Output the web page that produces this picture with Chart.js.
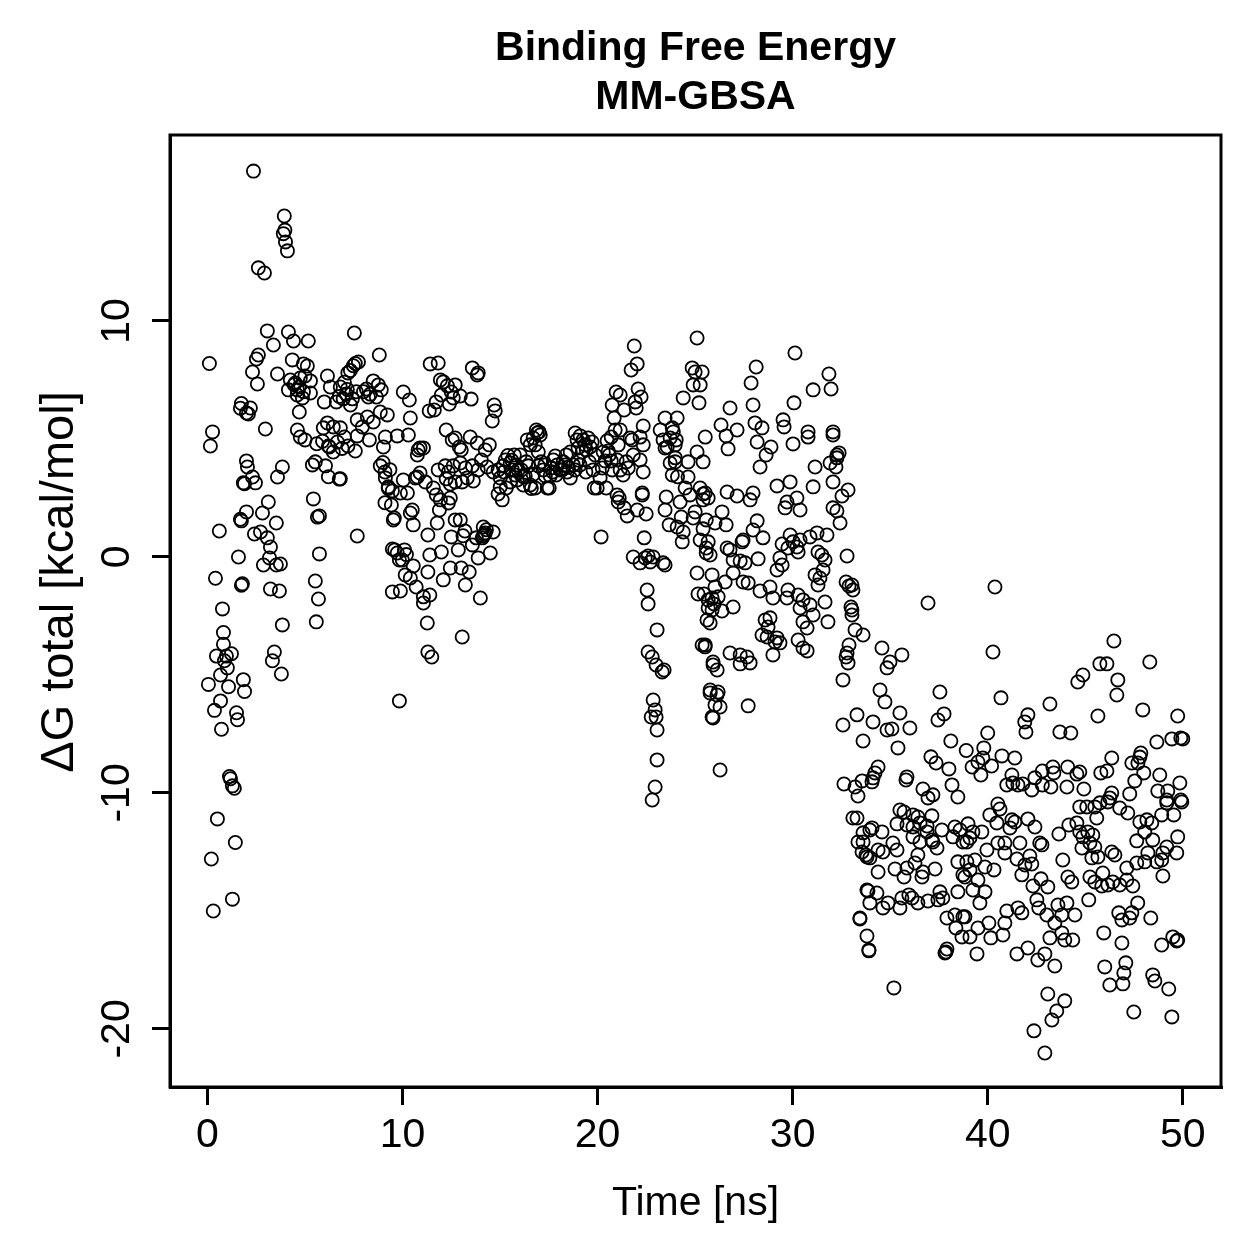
<!DOCTYPE html>
<html>
<head>
<meta charset="utf-8">
<script src="https://cdn.jsdelivr.net/npm/chart.js@4.4.1/dist/chart.umd.min.js"></script>
<style>
  html, body { margin: 0; padding: 0; background: #fff; }
</style>
</head>
<body>
<canvas id="myChart" width="1259" height="1259"></canvas>
<script>
// MM-GBSA binding free energy per frame
let timeNs = [
  0.1,0.15,0.26,0.05,0.2,0.3,0.36,0.41,0.46,0.51,0.61,0.67,0.67,0.72,0.77,0.82,0.82,0.87,0.97,1.02,1.08,1.13,1.18,1.23,1.28,1.38,1.28,1.43,1.49,1.54,1.59,1.69,1.74,1.74,1.84,1.9,1.9,1.79,1.69,2.0,
  2.36,2.61,2.92,3.94,3.89,4.0,4.1,3.07,3.38,2.61,2.51,2.31,2.56,3.59,2.2,2.1,2.97,2.0,2.05,2.31,1.84,2.46,3.12,2.0,1.74,2.82,3.53,2.41,2.72,3.07,3.23,3.18,2.87,3.53,3.74,3.23,3.69,3.84,3.43,3.33,3.79,3.84,3.59,3.97,
  4.15,4.41,5.17,4.35,4.92,5.12,4.25,4.5,4.76,5.0,5.28,4.15,4.61,4.92,5.28,4.6,4.87,4.71,4.61,5.99,5.94,5.43,5.74,5.64,5.74,5.58,5.69,5.53,5.38,5.53,4.76,5.0,5.9,6.2,5.6,4.45,4.7,
  6.15,6.3,6.81,7.02,7.2,7.33,7.48,7.58,7.74,7.17,6.76,6.96,7.12,7.43,7.63,7.53,6.15,6.45,6.81,7.02,6.66,6.25,6.45,7.58,7.68,7.94,6.61,7.33,7.68,6.81,7.68,6.05,6.2,6.76,6.9,7.2,
  8.2,8.86,9.22,8.5,8.81,8.5,8.76,8.15,8.35,8.66,8.91,8.25,10.04,9.12,9.02,8.3,8.86,9.12,9.27,9.48,9.43,9.53,9.58,9.48,9.73,9.84,9.48,9.89,9.84,9.89,9.73,9.0,9.35,9.1,9.27,9.1,9.6,8.0,
  10.35,10.4,10.3,10.8,10.76,10.9,11.07,10.5,10.4,10.55,10.76,10.9,10.66,11.17,10.25,10.04,11.3,11.4,11.3,11.4,11.27,11.3,11.5,11.07,11.07,11.37,11.42,11.94,11.83,11.63,11.99,11.73,10.14,10.4,10.55,9.99,10.7,11.78,11.89,11.94,11.73,11.58,11.83,10.1,10.2,
  12.09,12.3,12.5,12.7,12.6,12.4,12.96,13.52,13.83,13.58,13.88,12.24,12.55,12.7,12.91,13.01,13.47,13.83,12.19,12.35,12.6,12.96,13.22,13.58,13.88,12.24,12.45,12.7,13.06,13.32,13.63,12.45,12.35,12.7,12.96,12.5,12.86,13.01,13.22,13.42,13.58,13.78,13.99,12.45,12.09,13.06,11.99,13.1,13.2,
  14.7,14.75,14.6,14.24,14.45,14.04,14.34,14.65,14.9,15.01,15.16,15.27,15.52,15.63,15.78,15.88,15.01,15.32,14.9,14.14,14.24,14.14,14.65,13.88,14.5,14.09,15.11,15.52,15.83,15.93,15.73,14.2,14.3,15.4,15.2,15.6,
  16.09,16.29,16.55,16.19,16.8,16.4,16.55,16.7,16.86,16.91,17.06,16.8,16.96,17.11,17.21,17.32,17.42,17.52,17.62,17.73,17.83,17.93,17.88,17.57,16.96,16.34,16.03,16.45,16.6,17.0,17.3,17.7,16.2,16.7,
  18.08,18.24,18.39,18.44,18.6,18.75,18.85,19.0,18.95,18.85,19.11,19.26,19.36,19.52,19.62,19.72,19.42,19.21,19.0,18.6,18.34,19.88,19.77,19.83,19.98,19.57,18.2,18.5,19.1,19.4,
  20.13,20.24,20.39,20.6,20.29,20.49,20.7,20.9,20.85,20.75,20.95,21.16,21.36,21.16,21.06,21.0,21.16,21.47,21.57,21.83,21.77,21.67,21.31,21.11,21.36,20.18,20.55,20.7,20.75,20.44,21.88,22.03,21.72,21.52,21.06,21.0,
  22.08,22.23,21.93,21.98,22.34,22.18,22.34,22.18,22.34,22.29,22.03,21.83,22.18,22.44,22.59,22.85,22.7,22.54,22.59,23.05,22.59,22.8,23.0,23.31,23.41,22.85,22.95,22.75,23.0,23.05,23.05,22.95,22.8,23.36,23.46,23.46,23.52,23.67,23.83,23.57,23.72,23.88,24.03,23.98,23.21,23.36,23.46,23.83,24.08,24.39,23.72,23.98,24.1,22.29,22.49,22.39,23.46,23.98,
  24.23,24.49,24.74,25.0,24.9,24.29,24.08,24.39,24.34,25.1,25.15,25.36,24.64,24.64,25.1,24.85,25.0,25.1,24.9,25.36,25.26,25.2,25.52,25.41,25.41,25.67,25.26,25.57,25.26,25.57,25.77,25.46,25.67,25.87,25.97,25.77,25.52,25.77,25.92,25.87,26.02,26.12,26.28,25.87,
  26.69,26.64,27.15,25.52,25.41,26.38,26.02,26.59,25.41,25.67,25.57,26.64,26.79,27.41,27.46,26.95,27.31,27.56,26.95,27.46,27.72,26.54,26.02,25.87,26.18,25.67,25.61,26.38,26.95,25.51,26.79,27.31,27.66,27.82,27.31,25.92,26.13,25.77,26.18,26.28,25.92,27.72,27.82,27.97,27.15,26.33,26.79,27.87,27.97,28.07,28.18,27.97,28.18,26.59,
  28.13,28.43,28.89,29.2,29.61,29.71,29.87,28.48,28.23,28.33,28.84,28.99,29.76,29.71,28.59,28.84,28.74,28.43,28.69,29.2,29.35,29.1,28.99,29.46,29.87,29.2,29.35,29.46,29.76,29.51,29.56,28.64,28.33,
  30.02,30.12,30.07,30.22,30.38,30.28,30.02,30.89,31.25,31.76,30.28,30.53,30.38,30.89,31.66,31.81,31.05,30.74,30.53,30.28,30.53,30.74,31.15,31.4,31.3,31.56,31.3,31.5,31.66,31.05,31.15,30.79,31.05,31.86,31.97,30.79,32.07,30.22,30.38,
  32.07,32.27,32.38,32.27,31.92,32.22,32.07,32.84,32.53,32.07,32.27,32.43,32.79,33.04,33.09,33.04,33.04,32.89,32.79,32.84,33.61,32.58,33.3,32.58,32.63,33.2,33.35,33.09,33.3,33.35,33.56,33.45,33.81,33.91,33.76,33.96,32.74,32.89,32.99,33.2,32.74,33.61,33.81,33.91,33.45,
  34.07,33.61,33.61,33.81,33.96,34.38,34.63,34.58,35.14,35.35,35.35,35.5,35.71,34.12,34.22,34.38,34.07,33.86,34.32,33.96,34.63,34.89,35.5,35.6,35.19,34.38,35.25,35.86,35.71,34.48,34.73,34.99,34.84,34.58,35.6,34.12,35.09,34.84,35.4,35.5,35.81,35.86,33.56,
  36.01,36.17,36.42,35.86,36.17,36.53,36.89,37.14,37.65,36.89,37.14,36.53,36.17,37.19,37.4,36.42,36.27,36.68,36.63,37.3,35.96,36.12,36.42,36.94,37.55,37.7,37.45,36.68,37.19,36.94,37.09,37.35,37.45,37.76,37.55,36.94,37.91,37.86,37.91,37.81,
  38.11,38.01,38.17,38.47,38.22,38.32,38.58,38.73,38.47,38.73,38.47,38.32,38.37,38.68,38.73,38.9,39.2,
  40.37,40.27,46.47,48.31,45.75,46.11,44.88,44.62,46.67,46.62,40.68,43.19,45.65,47.95,49.74,42.06,41.9,41.96,43.7,44.26,40.0,48.67,49.44,49.9,50.0,39.8,39.75,39.5,40.2,39.65,40.73,41.39,41.24,40.98,41.29,41.55,41.8,42.26,42.8,43.34,43.39,42.42,42.8,43.24,44.1,44.72,44.57,44.06,44.93,46.36,46.11,45.8,47.39,47.85,47.7,48.0,47.54,47.28,47.8,48.82,49.85,48.72,49.23,49.18,49.9,46.26,46.36,45.75,
  40.52,40.63,40.11,40.47,41.24,41.39,41.14,42.06,42.42,38.99,39.24,39.09,39.7,38.93,40.52,40.88,41.65,42.67,42.78,39.96,
  40.88,41.5,42.16,41.91,42.26,41.75,38.93,39.34,39.09,38.83,39.86,40.32,39.5,39.24,39.86,39.6,42.73,42.32,43.08,43.65,
  43.85,44.16,44.57,44.72,44.88,45.13,45.39,45.24,45.49,44.83,45.34,45.65,44.72,45.08,45.49,45.59,46.16,46.77,47.18,47.8,
  48.16,48.41,48.05,47.64,48.46,48.92,49.54,49.18,49.95,49.74,49.69,49.18,48.98,48.92,48.67,48.21,48.05,47.64,47.13,48.98,
  46.36,46.52,44.11,44.31,45.24,45.49,45.9,45.85,46.16,46.41,46.77,47.13,47.44,45.18,42.52,42.62,43.03,43.6,44.06,43.8,
  43.44,44.47,40.98,41.55,41.75,40.88,40.78,40.06,40.16,39.5,39.09,38.83,43.19,43.8,43.95,44.36,39.45,41.5,42.06,42.57,
  42.93,43.44,46.72,46.88,47.28,47.39,47.69,48.36,45.95,46.88,48.92,49.49,49.69,49.74,46.0,47.08,46.98,46.93,46.26,48.46,
  48.57,49.28,43.08,43.95,43.54,43.29,42.37,42.93,47.49,49.44
];

let deltaG = [
  8.2,4.7,5.3,-5.4,-12.8,-15.0,-6.5,-0.9,-4.2,-11.1,1.1,-6.1,-5.0,-7.3,-2.2,-3.2,-3.7,-4.4,-4.2,-4.7,-5.5,-9.3,-9.4,-4.1,-9.7,-9.8,-14.5,-12.1,-6.6,-6.9,0.0,1.6,-1.2,6.5,-5.2,-5.7,3.1,-1.14,6.3,6.1,
  16.35,12.25,12.03,14.45,13.7,13.35,12.97,9.58,8.98,8.56,8.39,7.84,7.33,7.75,6.31,6.06,5.42,4.07,3.81,3.39,3.14,3.14,2.33,1.91,1.53,1.86,1.44,0.97,1.06,0.81,0.42,-0.04,-0.34,-0.34,-0.3,-1.36,-1.44,-2.88,-4.03,-4.4,-4.96,3.81,3.39,13.85,
  9.53,9.15,9.15,8.35,8.18,8.09,7.5,7.37,7.58,7.67,7.46,7.08,7.08,7.0,6.95,6.86,6.74,6.14,5.38,6.57,5.47,2.46,1.74,1.69,0.13,-2.75,-1.78,-1.02,3.9,4.03,5.08,4.96,4.9,4.7,4.8,7.3,7.2,
  7.67,7.2,7.2,7.4,7.8,7.9,8.1,8.2,8.26,7.1,6.8,6.7,6.9,6.7,7.0,9.49,5.68,5.51,5.47,5.08,4.87,4.66,4.45,4.49,5.13,5.51,6.57,6.44,5.81,3.31,0.89,3.86,3.4,3.3,4.6,4.7,
  5.93,6.14,6.02,5.72,8.56,7.46,7.29,7.12,6.9,6.78,7.08,6.78,6.99,5.08,4.66,4.96,3.86,3.35,2.97,2.8,2.2,1.57,1.65,0.34,0.17,-0.13,-1.48,-1.44,-6.1,2.71,5.13,4.0,3.7,3.6,2.9,2.3,0.3,7.0,
  6.65,5.89,5.17,4.53,4.32,4.62,4.62,1.99,1.86,1.36,3.39,3.56,3.35,3.18,2.71,3.26,0.93,0.08,-0.64,-1.61,-2.8,-4.03,-4.24,-1.69,-1.95,6.19,8.18,7.5,8.22,6.23,6.86,6.57,-0.76,-0.89,-0.38,-0.13,-1.27,1.44,1.99,2.42,2.63,2.92,3.69,0.3,0.1,
  7.42,7.25,6.99,7.29,6.74,6.48,6.82,6.69,7.71,8.01,7.8,5.38,4.96,5.04,4.66,4.53,5.08,4.83,3.86,3.6,3.86,3.98,3.77,3.86,3.69,3.31,3.09,3.18,3.18,3.35,3.22,2.5,2.29,1.57,1.57,0.85,0.3,-0.47,-1.19,-0.64,0.51,0.81,-1.74,-0.47,-0.97,-3.39,0.21,0.9,1.1,
  6.44,6.19,5.76,4.53,4.75,4.11,3.81,3.6,3.69,3.35,3.86,4.11,3.98,3.69,3.47,3.26,2.97,2.92,2.67,1.27,1.02,0.89,1.06,-0.04,0.17,0.81,2.42,3.18,3.9,3.69,4.32,0.95,1.15,4.3,3.6,4.1,
  3.69,3.43,3.05,3.05,2.92,4.96,4.75,5.04,5.38,5.25,5.17,4.75,4.45,4.03,3.69,3.43,2.92,2.92,3.77,4.11,4.28,3.9,3.47,3.43,3.86,4.03,4.32,3.86,2.9,5.3,3.9,3.6,3.4,3.5,
  3.69,4.03,4.32,3.6,3.35,3.9,3.69,4.11,4.96,5.25,5.13,4.96,4.75,5.04,4.66,4.87,4.53,4.45,4.62,4.45,3.9,4.32,3.69,2.92,2.92,4.03,3.7,3.8,3.9,3.6,
  3.35,3.77,4.07,4.32,4.45,4.92,5.08,5.38,5.89,6.44,6.99,6.86,6.23,5.38,4.75,4.11,3.69,4.03,3.77,4.32,4.96,5.04,3.47,2.5,2.08,0.85,4.49,4.07,3.69,2.92,8.94,8.18,7.92,1.74,2.33,2.63,
  7.12,6.78,6.57,6.31,5.55,5.08,4.75,4.11,3.6,2.71,1.99,0,-0.25,-0.04,0.04,0,-0.21,-1.4,-1.99,-3.09,-4.03,-4.24,-4.58,-4.87,-4.79,-6.06,-6.48,-6.78,-6.78,-7.33,-8.6,-9.75,-10.3,-0.25,-0.34,1.99,2.54,1.36,3.47,4.66,5.04,5.3,4.96,4.03,5.38,4.96,5.89,5.47,5.89,6.74,3.98,4.2,3.4,2.63,1.82,0.81,4.62,4.75,
  2.33,2.92,2.63,1.91,1.65,1.69,1.27,1.06,0.64,-0.68,-1.57,-3.73,4.03,3.39,4.45,8.01,7.84,9.28,7.29,7.84,7.29,6.53,5.08,4.03,2.67,2.5,2.92,1.57,0.72,0.38,0.08,-1.57,-1.82,-2.25,-1.99,-2.8,-3.73,-5.64,-4.58,-6.78,-6.27,-5.85,-9.03,-0.76,
  4.58,2.75,2.58,2.71,2.42,1.91,1.44,1.36,1.19,0.64,0.17,0.38,0.3,0.64,0.72,-0.13,-0.17,-0.25,-0.68,-1.06,-1.1,-1.06,-1.27,-1.74,-1.69,-2.16,-2.67,-2.29,-2.12,-3.81,-4.07,-4.15,-4.24,-4.49,-4.53,-4.45,-4.79,-5.76,-5.72,-6.36,-6.82,-6.31,2.42,2.71,5.38,5.59,6.31,7.37,6.44,5.68,4.87,1.14,1.53,5.13,
  8.05,5.47,4.66,3.01,2.08,2.33,3.18,0.81,-0.08,-1.44,-1.27,-1.74,-1.4,-1.74,-2.67,-2.58,-2.97,-3.31,-3.39,-3.43,-3.64,-3.6,-4.15,0.55,0.93,-0.55,-0.04,-0.34,0.38,5.81,5.51,4.32,3.81,
  4.79,8.64,6.53,0.42,0.72,0.21,0.64,0.85,1.02,0.93,-1.61,-1.82,-2.16,-2.03,-1.91,-2.75,-2.46,-3.01,-2.75,-3.52,-3.86,-3.98,-0.76,-0.89,-1.19,-0.55,0.21,0.08,-0.13,2.97,3.81,5.08,7.08,7.75,7.12,5.3,5.3,2.5,1.99,
  5.17,4.32,4.41,4.2,3.98,3.81,3.18,2.84,2.58,2.08,1.95,1.44,0.04,-1.19,-1.4,-2.25,-2.46,-3.73,-4.07,-4.49,-3.31,-5.21,-6.69,-7.12,-9.62,-9.75,-10.13,-11.06,-11.06,-12.08,-12.5,-15.3,-14.11,-16.65,-12.63,-11.57,-1.06,-1.23,-2.12,-3.09,-4.24,-7.8,-16.06,-16.69,-15.34,
  -11.48,-11.69,-12.08,-12.71,-12.75,-12.42,-12.5,-11.65,-12.12,-12.42,-11.31,-10.72,-10.81,-9.36,-9.15,-8.9,-9.53,-14.15,-14.24,-14.66,-14.87,-14.66,-14.87,-14.45,-18.26,-13.35,-13.22,-13.18,-13.56,-5.64,-6.14,-4.45,-4.7,-3.86,-4.15,-6.99,-7.29,-7.33,-8.09,-6.61,-9.45,-9.32,-9.49,
  -7.25,-10.93,-11.02,-11.36,-11.44,-11.27,-11.4,-10.97,-11.57,-11.65,-11.99,-12.08,-11.86,-12.08,-12.33,-12.63,-12.97,-13.35,-13.56,-13.22,-14.32,-14.45,-14.66,-14.58,-14.19,-14.45,-14.53,-9.83,-10.08,-10.21,-8.47,-8.73,-6.91,-6.65,-5.72,-1.95,-15.3,-16.74,-16.61,-16.78,
  -7.8,-8.98,-9.66,-10.17,-11.86,-11.44,-11.57,-12.08,-12.92,-13.47,-14.19,-15.17,-15.72,-16.1,-15.25,-8.2,-8.9,
  -1.27,-4.03,-3.56,-4.45,-4.53,-4.53,-5.0,-5.3,-5.21,-5.85,-5.97,-6.23,-6.74,-6.48,-6.74,-6.69,-6.99,-7.42,-7.42,-7.46,-7.46,-7.84,-7.71,-7.67,-7.71,-8.09,-8.52,-8.69,-8.86,-9.24,-8.43,-8.52,-9.24,-9.66,-9.58,-9.66,-9.62,-9.87,-9.07,-8.9,-9.15,-9.36,-9.66,-9.75,-8.9,-9.11,-9.2,-9.75,-9.83,-8.52,-9.07,-9.15,-8.73,-8.31,-8.73,-9.15,-9.49,-10.04,-8.48,-9.24,-9.58,-9.92,-9.92,-10.3,-10.3,-10.21,-10.0,-10.42,
  -10.47,-10.68,-10.93,-11.27,-11.14,-11.23,-11.48,-11.1,-11.44,-11.31,-11.65,-11.91,-11.65,-12.08,-12.12,-12.12,-12.12,-12.12,-12.2,-12.42,
  -12.54,-12.8,-12.67,-13.05,-13.01,-13.47,-12.92,-12.84,-13.26,-13.56,-13.14,-13.26,-13.69,-14.11,-14.19,-14.66,-13.64,-13.94,-13.98,-11.74,
  -12.84,-11.36,-11.27,-11.65,-11.86,-11.65,-11.78,-12.12,-12.29,-12.33,-12.75,-12.71,-10.59,-10.59,-10.59,-11.06,-10.38,-10.64,-10.85,-11.23,
  -11.14,-11.27,-11.65,-12.03,-11.99,-10.93,-10.93,-10.42,-10.38,-11.86,-12.54,-12.29,-12.54,-12.84,-12.92,-12.54,-12.92,-12.97,-13.18,-13.52,
  -12.5,-12.63,-13.56,-13.77,-13.56,-13.77,-13.39,-13.94,-13.9,-13.77,-13.9,-13.69,-13.94,-14.53,-14.53,-14.87,-15.17,-14.75,-14.66,-15.17,
  -15.51,-15.17,-15.0,-14.87,-15.08,-15.51,-16.02,-15.51,-16.14,-15.72,-16.1,-15.25,-16.14,-15.93,-16.23,-16.23,-16.82,-16.82,-16.57,-17.08,
  -16.82,-17.33,-15.08,-15.38,-15.3,-15.08,-14.66,-15.3,-15.93,-16.36,-16.44,-16.1,-16.27,-16.23,-17.37,-17.2,-17.63,-18.09,-18.14,-17.71,
  -17.97,-18.31,-18.52,-18.81,-19.24,-19.62,-20.08,-21.02,-19.28,-19.49
];

let xTicks = [0, 10, 20, 30, 40, 50];
let yTicks = [-20, -10, 0, 10];

let mainTitle = ["Binding Free Energy", "MM-GBSA"];
let xTitle = "Time [ns]";
let yTitle = "\u0394G total [kcal/mol]";

if (timeNs.length != deltaG.length) {
  console.error("length mismatch", timeNs.length, deltaG.length);
}

let points = timeNs.map((t, i) => ({ x: t, y: deltaG[i] }));

let fontFamily = "'Liberation Sans', Arial, Helvetica, sans-serif";

// R-like frame, title and axis labels
let frame = {
  id: "frame",
  afterDraw(chart) {
    let ctx = chart.ctx;
    let a = chart.chartArea;
    ctx.save();
    ctx.strokeStyle = "#000";
    ctx.lineWidth = 3;
    ctx.strokeRect(a.left, a.top, a.right - a.left, a.bottom - a.top);

    ctx.fillStyle = "#000";
    ctx.textAlign = "center";
    ctx.textBaseline = "alphabetic";
    ctx.font = "bold 41px " + fontFamily;
    let cx = (a.left + a.right) / 2;
    ctx.fillText(mainTitle[0], cx, 60);
    ctx.fillText(mainTitle[1], cx, 109);

    ctx.font = "41px " + fontFamily;
    ctx.fillText(xTitle, cx, 1215);

    ctx.font = "47px " + fontFamily;
    ctx.translate(73, 582);
    ctx.rotate(-Math.PI / 2);
    ctx.fillText(yTitle, 0, 0);
    ctx.restore();
  }
};

let ctx = document.getElementById("myChart").getContext("2d");
let myChart = new Chart(ctx, {
  type: "scatter",
  data: {
    datasets: [
      {
        label: "dG",
        data: points,
        pointStyle: "circle",
        pointRadius: 6.6,
        pointBorderWidth: 1.8,
        pointBorderColor: "#000",
        pointBackgroundColor: "rgba(0,0,0,0)",
        showLine: false
      }
    ]
  },
  options: {
    responsive: false,
    animation: false,
    devicePixelRatio: 1,
    layout: { padding: { top: 135, right: 38, left: 0, bottom: 0 } },
    plugins: {
      legend: { display: false },
      tooltip: { enabled: false },
      title: { display: false }
    },
    scales: {
      x: {
        type: "linear",
        min: -1.92,
        max: 51.96,
        afterBuildTicks: s => { s.ticks = xTicks.map(v => ({ value: v })); },
        afterFit: s => { s.height = 172; },
        grid: { drawOnChartArea: false, drawTicks: true, tickLength: 18, color: "#000", lineWidth: 3 },
        border: { display: true, color: "#000", width: 3 },
        ticks: {
          color: "#000",
          font: { family: fontFamily, size: 41 },
          padding: 6,
          maxRotation: 0,
          autoSkip: false
        }
      },
      y: {
        type: "linear",
        min: -22.46,
        max: 17.88,
        afterBuildTicks: s => { s.ticks = yTicks.map(v => ({ value: v })); },
        afterFit: s => { s.width = 170; },
        grid: { drawOnChartArea: false, drawTicks: true, tickLength: 18, color: "#000", lineWidth: 3 },
        border: { display: true, color: "#000", width: 3 },
        ticks: {
          color: "#000",
          font: { family: fontFamily, size: 41 },
          padding: 5,
          minRotation: 90,
          maxRotation: 90,
          crossAlign: "center",
          autoSkip: false
        }
      }
    }
  },
  plugins: [frame]
});
</script>
</body>
</html>
